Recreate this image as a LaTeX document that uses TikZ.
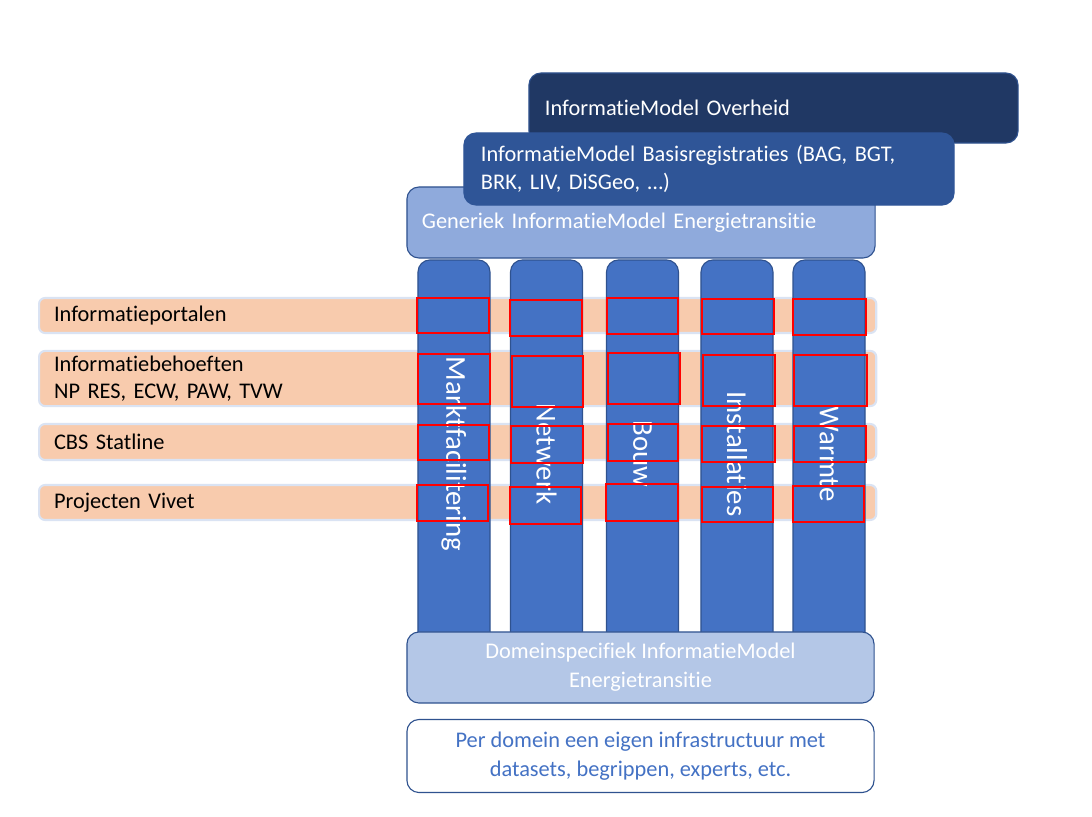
\documentclass[tikz,border=0pt]{standalone}
\usepackage{fontspec}
\setmainfont{Carlito}[Ligatures=NoCommon]
\definecolor{navy}{HTML}{203864}
\definecolor{midblue}{HTML}{2F5597}
\definecolor{lightblue}{HTML}{8FAADC}
\definecolor{paleblue}{HTML}{B4C7E7}
\definecolor{pillarblue}{HTML}{4472C4}
\definecolor{edgeblue}{HTML}{2F528F}
\definecolor{bandfill}{HTML}{F8CBAD}
\definecolor{bandedge}{HTML}{DAE3F3}
\tikzstyle{layer} = [rectangle, rounded corners=0.3cm, draw=edgeblue, line width=0.8pt, text=white, align=left, inner xsep=0.4cm, font=\fontsize{15.9}{19.5}\selectfont]
\tikzstyle{pillar} = [rectangle, rounded corners=0.3cm, draw=edgeblue, line width=0.8pt, fill=pillarblue, rotate=-90, minimum width=9.7cm, minimum height=1.8cm, text=white, font=\fontsize{20.5}{24}\selectfont]
\tikzstyle{band} = [rectangle, rounded corners=0.15cm, draw=bandedge, line width=1.5pt, fill=bandfill, anchor=west, text width=20.175cm, inner xsep=0.375cm, align=left, font=\fontsize{15.9}{19.5}\selectfont]
\tikzstyle{cross} = [draw=red, line width=1.4pt]
\tikzstyle{base} = [rectangle, rounded corners=0.3cm, draw=edgeblue, line width=0.8pt, minimum width=11.675cm, align=center, font=\fontsize{15.9}{20.5}\selectfont]

\begin{document}
\begin{tikzpicture}[x=0.025cm, y=-0.025cm]
\useasboundingbox (0,0) rectangle (1092,816);

\node (overheid) [layer, fill=navy, text width=11.425cm, minimum height=1.75cm] at (773.5,108) {InformatieModel Overheid};
\node (generiek) [layer, fill=lightblue, text width=10.95cm, inner xsep=0.375cm, minimum height=1.775cm] at (641,222.5) {Generiek InformatieModel Energietransitie};
\node (basis) [layer, fill=midblue, draw=midblue, text width=11.4cm, inner xsep=0.425cm, minimum height=1.8cm] at (709,169) {InformatieModel Basisregistraties (BAG, BGT,\\BRK, LIV, DiSGeo, \dots)};

\node (portalen) [band, minimum height=0.875cm] at (38,315.5) {Informatieportalen};
\node (behoeften) [band, minimum height=1.325cm] at (38,378.5) {Informatiebehoeften\\NP RES, ECW, PAW, TVW};
\node (statline) [band, minimum height=0.9cm] at (38,442) {CBS Statline};
\node (vivet) [band, minimum height=0.875cm] at (38,502.5) {Projecten Vivet};

\node (markt) [pillar] at (454,454) {Marktfacilitering};
\node (netwerk) [pillar] at (546.5,454) {Netwerk};
\node (bouw) [pillar] at (642.5,454) {Bouw};
\node (install) [pillar] at (737,454) {Installaties};
\node (warmte) [pillar] at (829,454) {Warmte};

\foreach \xa/\ya/\xb/\yb in {417/298/489/333, 510/300/582/336, 607/298/678/334, 702/299/774/334, 793/299/866/335,
  418/354/490/404, 512/356/583/407, 608/353/680/404, 703/355/775/406, 794/355/867/406,
  418/425/489/460, 511/426/583/463, 608/424/678/461, 702/426/775/462, 794/426/866/462,
  417/485/488/521, 510/487/581/524, 606/484/678/521, 702/487/773/522, 793/486/864/522}
  \draw [cross] (\xa,\ya) rectangle (\xb,\yb);

\node (domein) [base, fill=paleblue, text=white, minimum height=1.775cm] at (640.5,667.5) {Domeinspecifiek InformatieModel\\Energietransitie};
\node (infra) [base, fill=white, text=pillarblue, minimum height=1.825cm] at (640.5,756) {Per domein een eigen infrastructuur met\\datasets, begrippen, experts, etc.};
\end{tikzpicture}
\end{document}
